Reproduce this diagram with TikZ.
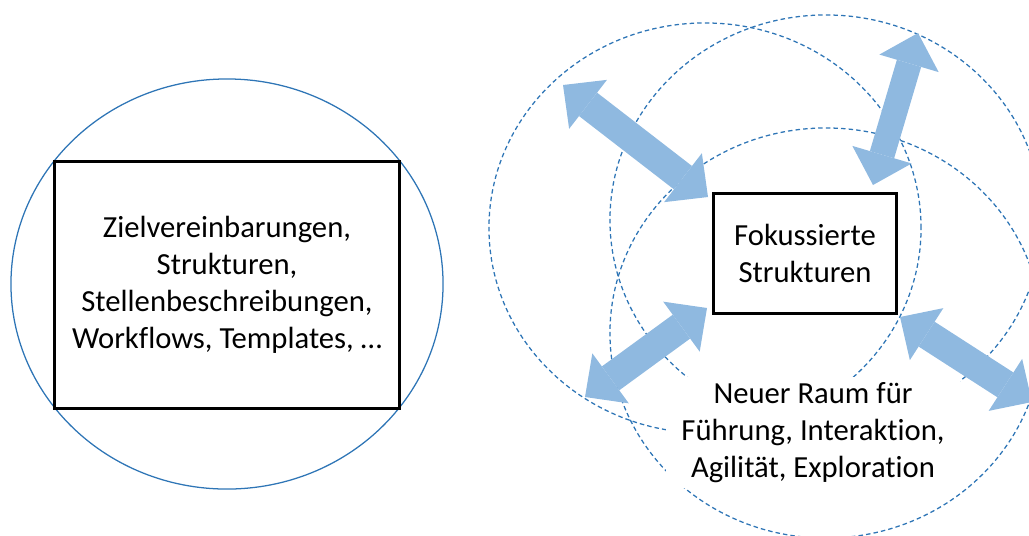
\documentclass[tikz,border=0pt]{standalone}
\usepackage{fontspec}
\setmainfont{Carlito}[Ligatures=NoCommon]
\usetikzlibrary{arrows.meta,positioning,calc}
\definecolor{kreisblau}{RGB}{46,117,182}
\definecolor{pfeilblau}{RGB}{143,185,224}

\begin{document}
\begin{tikzpicture}[x=0.025cm, y=-0.025cm]
  % Stile
  \tikzset{
    kasten/.style={
           rectangle,
           draw=black,
           line width=2.1pt,
           fill=white,
           align=center,
           font=\fontsize{21.8pt}{26.4pt}\selectfont},
    schrift/.style={
           align=center,
           fill=white,
           inner xsep=11pt,
           inner ysep=3.5pt,
           font=\fontsize{21.8pt}{26.4pt}\selectfont},
    kreis/.style={draw=kreisblau, line width=0.9pt},
    raum/.style={draw=kreisblau, line width=0.9pt, dash pattern=on 3.2pt off 2.2pt},
    % Doppelpfeil
    pfeil/.style={
           <->,
           >={Triangle[width=44pt,length=22.5pt,line width=0pt]},
           draw=pfeilblau,
           line width=21pt}
  }
  \useasboundingbox (0,0) rectangle (1029,535);

  % Kreise
  \draw[kreis] (227,284) ellipse [x radius=5.4cm, y radius=5.125cm];
  \draw[raum] (705,228) ellipse [x radius=5.4cm, y radius=5.125cm];
  \draw[raum] (826,220) ellipse [x radius=5.4cm, y radius=5.125cm];
  \draw[raum] (826,333) ellipse [x radius=5.4cm, y radius=5.125cm];

  % Kaesten und Texte
  \node[kasten, minimum width=8.625cm, minimum height=6.175cm] (ziele) at (227,285)
       {Zielvereinbarungen,\\ Strukturen,\\ Stellenbeschreibungen,\\ Workflows, Templates, …};
  \node[kasten, minimum width=4.575cm, minimum height=3cm] (fokus) at (805,253.5)
       {Fokussierte\\ Strukturen};
  \node[schrift, below=1.55cm of fokus, xshift=0.2cm] (raum)
       {Neuer Raum für\\ Führung, Interaktion,\\ Agilität, Exploration};

  % Pfeile
  \coordinate (lo) at (563,85);
  \coordinate (ro) at (918,33);
  \coordinate (lu) at (585,397);
  \coordinate (ru) at (1032,402);
  \draw[pfeil] (lo) -- ($(fokus.north west)+(-4,5)$);
  \draw[pfeil, line width=18pt] (ro) -- ($(fokus.north east)+(-25,-7)$);
  \draw[pfeil] (lu) -- ($(fokus.south west)+(-5,-7)$);
  \draw[pfeil] (ru) -- ($(fokus.south east)+(2,2)$);
\end{tikzpicture}
\end{document}
